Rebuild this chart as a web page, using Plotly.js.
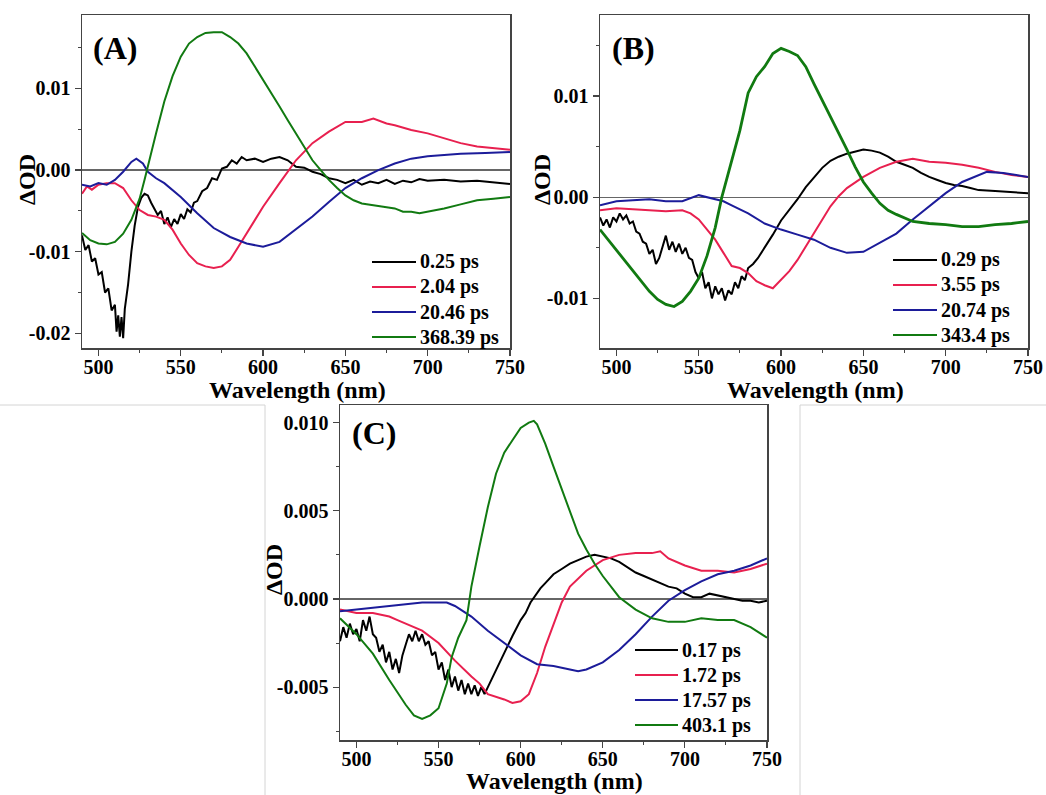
<!DOCTYPE html>
<html>
<head>
<meta charset="utf-8">
<script src="https://cdn.plot.ly/plotly-3.0.1.min.js"></script>
<style>html,body{margin:0;padding:0;background:#fff;}#chart{width:1046px;height:795px;}</style>
</head>
<body>
<div id="chart"></div>
<script>
// ---------- Panel A ----------
const wlA_k = [490,492,494,496,498,500,502,504,506,508,510,511,512,513,514,515,516,518,520,522,524,526,528,530,532,534,536,538,540,542,544,546,548,550,552,554,556,558,560,563,566,569,572,575,578,581,584,587,590,595,600,605,610,615,620,625,630,635,640,645,650,655,660,665,670,675,680,685,690,695,700,710,720,730,740,750];
const odA_k = [-0.0080,-0.0098,-0.0092,-0.0112,-0.0108,-0.0128,-0.0125,-0.0150,-0.0145,-0.0172,-0.0165,-0.0198,-0.0178,-0.0204,-0.0180,-0.0206,-0.0170,-0.0140,-0.0100,-0.0068,-0.0045,-0.0034,-0.0029,-0.0031,-0.0040,-0.0048,-0.0055,-0.0050,-0.0066,-0.0058,-0.0070,-0.0060,-0.0066,-0.0054,-0.0060,-0.0048,-0.0052,-0.0040,-0.0038,-0.0026,-0.0022,-0.0010,-0.0012,0.0002,0.0004,0.0012,0.0008,0.0016,0.0012,0.0014,0.0010,0.0014,0.0016,0.0012,0.0004,0.0003,-0.0002,-0.0005,-0.0010,-0.0012,-0.0016,-0.0012,-0.0018,-0.0014,-0.0016,-0.0012,-0.0017,-0.0013,-0.0015,-0.0011,-0.0013,-0.0012,-0.0014,-0.0013,-0.0015,-0.0017];
const wlA_r = [490,493,496,500,505,510,515,520,525,530,535,540,545,550,555,560,565,570,575,580,585,590,595,600,610,620,630,640,650,660,667,675,680,690,700,710,720,730,740,750];
const odA_r = [-0.0029,-0.0020,-0.0024,-0.0018,-0.0016,-0.0016,-0.0022,-0.0037,-0.0049,-0.0055,-0.0057,-0.0061,-0.0073,-0.0090,-0.0104,-0.0114,-0.0118,-0.0120,-0.0118,-0.0110,-0.0094,-0.0078,-0.0061,-0.0045,-0.0016,0.0012,0.0033,0.0047,0.0059,0.0059,0.0063,0.0057,0.0055,0.0049,0.0045,0.0039,0.0033,0.0029,0.0027,0.0025];
const wlA_b = [490,495,500,505,510,515,520,523,527,530,535,540,550,560,570,580,590,600,610,620,630,640,650,660,670,680,690,700,720,735,750];
const odA_b = [-0.0018,-0.0020,-0.0016,-0.0018,-0.0012,-0.0002,0.0010,0.0014,0.0008,-0.0002,-0.0010,-0.0016,-0.0033,-0.0053,-0.0071,-0.0082,-0.0090,-0.0094,-0.0088,-0.0073,-0.0057,-0.0039,-0.0022,-0.0010,0.0000,0.0008,0.0014,0.0017,0.0020,0.0021,0.0022];
const wlA_g = [490,495,500,505,510,515,520,525,528,530,535,540,545,550,555,560,565,570,575,580,585,590,595,600,605,610,615,620,625,630,635,640,645,650,655,660,670,680,685,690,695,700,710,720,730,740,750];
const odA_g = [-0.0077,-0.0086,-0.0090,-0.0091,-0.0088,-0.0078,-0.0061,-0.0035,-0.0012,0.0005,0.0045,0.0084,0.0115,0.0139,0.0155,0.0163,0.0168,0.0169,0.0169,0.0163,0.0155,0.0143,0.0127,0.0110,0.0094,0.0078,0.0061,0.0045,0.0029,0.0012,0.0000,-0.0012,-0.0022,-0.0031,-0.0037,-0.0041,-0.0044,-0.0047,-0.0051,-0.0051,-0.0053,-0.0051,-0.0047,-0.0042,-0.0037,-0.0035,-0.0033];
const namesA = ['0.25 ps','2.04 ps','20.46 ps','368.39 ps'];

// ---------- Panel B ----------
const wlB_k = [490,492,494,496,498,500,502,504,506,508,510,512,514,516,518,520,522,524,526,528,530,532,534,536,538,540,542,544,546,548,550,552,554,556,558,560,562,564,566,568,570,572,574,576,578,580,583,586,590,595,600,605,610,615,620,625,630,635,640,645,650,655,660,665,670,675,680,685,690,695,700,705,710,715,720,730,740,750];
const odB_k = [-0.0020,-0.0028,-0.0022,-0.0030,-0.0020,-0.0024,-0.0016,-0.0022,-0.0018,-0.0026,-0.0024,-0.0034,-0.0036,-0.0044,-0.0046,-0.0056,-0.0052,-0.0066,-0.0060,-0.0050,-0.0038,-0.0052,-0.0044,-0.0054,-0.0046,-0.0056,-0.0050,-0.0060,-0.0062,-0.0074,-0.0080,-0.0074,-0.0090,-0.0084,-0.0100,-0.0088,-0.0096,-0.0090,-0.0102,-0.0092,-0.0096,-0.0084,-0.0090,-0.0078,-0.0082,-0.0070,-0.0066,-0.0060,-0.0050,-0.0037,-0.0023,-0.0013,-0.0002,0.0010,0.0020,0.0029,0.0036,0.0040,0.0043,0.0045,0.0047,0.0046,0.0044,0.0040,0.0035,0.0032,0.0029,0.0024,0.0020,0.0017,0.0014,0.0012,0.0011,0.0009,0.0007,0.0006,0.0005,0.0004];
const wlB_r = [490,500,510,520,530,540,545,550,555,560,565,570,575,580,585,590,595,600,605,610,615,620,625,630,635,640,650,660,670,680,690,700,710,720,730,740,750];
const odB_r = [-0.0013,-0.0011,-0.0012,-0.0013,-0.0014,-0.0013,-0.0016,-0.0022,-0.0032,-0.0042,-0.0055,-0.0068,-0.0070,-0.0075,-0.0083,-0.0087,-0.0090,-0.0082,-0.0073,-0.0062,-0.0049,-0.0036,-0.0022,-0.0009,0.0001,0.0009,0.0020,0.0029,0.0035,0.0038,0.0035,0.0034,0.0032,0.0029,0.0025,0.0022,0.0020];
const wlB_b = [490,500,510,520,530,540,550,560,565,570,580,590,600,610,620,630,640,650,660,670,680,690,700,710,720,725,735,750];
const odB_b = [-0.0008,-0.0004,-0.0003,-0.0002,-0.0004,-0.0004,0.0002,-0.0002,-0.0004,-0.0008,-0.0016,-0.0026,-0.0032,-0.0037,-0.0042,-0.0050,-0.0055,-0.0054,-0.0045,-0.0036,-0.0022,-0.0009,0.0004,0.0015,0.0022,0.0025,0.0024,0.0020];
const wlB_g = [490,495,500,505,510,515,520,525,530,535,540,545,550,555,560,564,570,575,580,585,590,595,600,605,610,615,620,625,630,635,640,645,650,655,660,665,670,680,690,700,710,720,730,740,750];
const odB_g = [-0.0032,-0.0042,-0.0052,-0.0062,-0.0072,-0.0083,-0.0093,-0.0101,-0.0106,-0.0108,-0.0103,-0.0093,-0.0080,-0.0058,-0.0030,0.0000,0.0037,0.0066,0.0103,0.0119,0.0129,0.0142,0.0147,0.0144,0.0140,0.0129,0.0112,0.0096,0.0080,0.0063,0.0047,0.0030,0.0015,0.0004,-0.0006,-0.0013,-0.0017,-0.0024,-0.0026,-0.0027,-0.0029,-0.0029,-0.0027,-0.0026,-0.0024];
const namesB = ['0.29 ps','3.55 ps','20.74 ps','343.4 ps'];

// ---------- Panel C ----------
const wlC_k = [490,492,494,496,498,500,502,504,506,508,510,512,514,516,518,520,522,524,526,528,530,532,534,536,538,540,542,544,546,548,550,552,554,556,558,560,562,564,566,568,570,572,574,576,578,580,583,586,590,595,600,603,606,609,612,615,620,625,630,635,640,645,650,655,660,665,670,675,680,685,690,695,700,705,710,715,720,725,730,735,740,745,750];
const odC_k = [-0.0024,-0.0016,-0.0022,-0.0014,-0.0020,-0.0017,-0.0024,-0.0012,-0.0018,-0.0010,-0.0020,-0.0022,-0.0030,-0.0026,-0.0036,-0.0030,-0.0040,-0.0034,-0.0042,-0.0032,-0.0026,-0.0020,-0.0024,-0.0018,-0.0024,-0.0020,-0.0026,-0.0024,-0.0032,-0.0030,-0.0040,-0.0036,-0.0046,-0.0040,-0.0050,-0.0044,-0.0052,-0.0046,-0.0054,-0.0048,-0.0054,-0.0049,-0.0055,-0.0050,-0.0054,-0.0050,-0.0044,-0.0038,-0.0030,-0.0021,-0.0012,-0.0008,-0.0002,0.0002,0.0006,0.0009,0.0014,0.0017,0.0020,0.0022,0.0024,0.0025,0.0024,0.0023,0.0021,0.0018,0.0015,0.0013,0.0011,0.0009,0.0007,0.0006,0.0003,0.0001,0.0001,0.0003,0.0002,0.0001,0.0000,-0.0001,-0.0001,-0.0002,-0.0001];
const wlC_r = [490,500,510,520,525,530,540,550,560,570,575,580,590,595,600,605,610,615,620,625,630,640,650,660,670,680,685,690,700,710,720,730,740,750];
const odC_r = [-0.0006,-0.0008,-0.0008,-0.0010,-0.0012,-0.0014,-0.0018,-0.0025,-0.0035,-0.0044,-0.0048,-0.0054,-0.0057,-0.0059,-0.0058,-0.0054,-0.0042,-0.0027,-0.0014,-0.0002,0.0007,0.0016,0.0022,0.0025,0.0026,0.0026,0.0027,0.0023,0.0019,0.0016,0.0016,0.0015,0.0017,0.0020];
const wlC_b = [490,500,510,520,530,540,550,555,560,570,580,590,600,610,620,630,635,640,650,660,670,680,690,700,710,720,730,740,750];
const odC_b = [-0.0007,-0.0006,-0.0005,-0.0004,-0.0003,-0.0002,-0.0002,-0.0002,-0.0004,-0.0010,-0.0018,-0.0025,-0.0032,-0.0037,-0.0038,-0.0040,-0.0041,-0.0040,-0.0036,-0.0029,-0.0020,-0.0010,-0.0001,0.0005,0.0010,0.0014,0.0016,0.0019,0.0023];
const wlC_g = [490,500,510,520,530,535,540,545,550,555,558,562,567,570,575,580,585,590,595,600,605,608,610,615,620,625,630,635,640,645,650,660,670,680,690,700,710,720,730,740,750];
const odC_g = [-0.0011,-0.0020,-0.0031,-0.0046,-0.0060,-0.0066,-0.0068,-0.0066,-0.0062,-0.0048,-0.0033,-0.0022,-0.0012,0.0007,0.0030,0.0052,0.0071,0.0083,0.0090,0.0097,0.0100,0.0101,0.0099,0.0088,0.0075,0.0062,0.0049,0.0037,0.0028,0.0020,0.0013,0.0001,-0.0006,-0.0011,-0.0013,-0.0013,-0.0011,-0.0012,-0.0012,-0.0016,-0.0022];
const namesC = ['0.17 ps','1.72 ps','17.57 ps','403.1 ps'];

// ---------- tick labels ----------
const xTicks = [500,550,600,650,700,750];
const xTickText = ['500','550','600','650','700','750'];
const yTicksAB = [-0.02,-0.01,0,0.01];
const yTickTextAB = ['-0.02','-0.01','0.00','0.01'];
const yTicksC = [-0.005,0,0.005,0.010];
const yTickTextC = ['-0.005','0.000','0.005','0.010'];

const colors = ['#000000','#e8204f','#1c1c9a','#117a11'];
const FONT = 'Liberation Serif, Times New Roman, serif';
const W = 1046, H = 795;

function mk(x, y, name, i, xa, ya, w) {
  return {x: x, y: y, name: name, type: 'scatter', mode: 'lines',
    xaxis: xa, yaxis: ya, showlegend: false,
    line: {color: colors[i], width: w || 2}};
}
const traces = [
  mk(wlA_k, odA_k, namesA[0], 0, 'x', 'y'),
  mk(wlA_r, odA_r, namesA[1], 1, 'x', 'y'),
  mk(wlA_b, odA_b, namesA[2], 2, 'x', 'y'),
  mk(wlA_g, odA_g, namesA[3], 3, 'x', 'y'),
  mk(wlB_k, odB_k, namesB[0], 0, 'x2', 'y2'),
  mk(wlB_r, odB_r, namesB[1], 1, 'x2', 'y2'),
  mk(wlB_b, odB_b, namesB[2], 2, 'x2', 'y2'),
  mk(wlB_g, odB_g, namesB[3], 3, 'x2', 'y2', 2.8),
  mk(wlC_k, odC_k, namesC[0], 0, 'x3', 'y3'),
  mk(wlC_r, odC_r, namesC[1], 1, 'x3', 'y3'),
  mk(wlC_b, odC_b, namesC[2], 2, 'x3', 'y3'),
  mk(wlC_g, odC_g, namesC[3], 3, 'x3', 'y3')
];

const tickFont = {family: FONT, size: 20, color: '#000', weight: 'bold'};
function xax(l, r, anchor) {
  return {domain: [l / W, r / W], anchor: anchor, range: [490, 750],
    tickmode: 'array', tickvals: xTicks, ticktext: xTickText,
    ticks: 'outside', ticklen: 6, tickwidth: 1.2, tickcolor: '#444',
    minor: {dtick: 25, tick0: 0, ticks: 'outside', ticklen: 3, tickwidth: 1, tickcolor: '#444'},
    showline: true, linecolor: '#444', linewidth: 1.5, mirror: true,
    showgrid: false, zeroline: false, tickfont: tickFont, automargin: false,
    ticklabelstandoff: -6};
}
function yax(t, b, anchor, range, tv, tt, minorStep) {
  return {domain: [1 - b / H, 1 - t / H], anchor: anchor, range: range,
    tickmode: 'array', tickvals: tv, ticktext: tt,
    ticks: 'outside', ticklen: 6, tickwidth: 1.2, tickcolor: '#444',
    minor: {dtick: minorStep, tick0: 0, ticks: 'outside', ticklen: 3, tickwidth: 1, tickcolor: '#444'},
    showline: true, linecolor: '#444', linewidth: 1.5, mirror: true,
    showgrid: false, zeroline: true, zerolinecolor: '#666', zerolinewidth: 1.2,
    tickfont: tickFont, automargin: false};
}
function ann(text, xpx, ypx, size, angle, anchor) {
  return {text: text, x: xpx / W, y: 1 - ypx / H, xref: 'paper', yref: 'paper',
    showarrow: false, xanchor: anchor || 'center', yanchor: 'middle', textangle: angle || 0,
    font: {family: FONT, size: size, color: '#000', weight: 'bold'}};
}
function seg(x0, y0, x1, y1, color, width) {
  return {type: 'line', xref: 'paper', yref: 'paper',
    x0: x0 / W, y0: 1 - y0 / H, x1: x1 / W, y1: 1 - y1 / H,
    line: {color: color || '#d4d4d4', width: width || 1}};
}

// legend keys (line sample + label) for each panel
const annotations = [
  ann('(A)', 115, 48, 32), ann('(B)', 633, 48, 32), ann('(C)', 374, 433, 32),
  ann('ΔOD', 27, 180, 24, -90), ann('ΔOD', 542, 180, 24, -90), ann('ΔOD', 274, 570, 24, -90),
  ann('Wavelength (nm)', 297, 390, 24), ann('Wavelength (nm)', 815, 390, 24), ann('Wavelength (nm)', 554, 781, 24)
];
const shapes = [
  seg(0, 405, 265, 405), seg(265, 405, 265, 795),
  seg(800, 405, 1046, 405), seg(800, 405, 800, 795)
];
function addKey(names, lineX0, lineX1, textX, rowY0) {
  names.forEach(function (nm, i) {
    const y = rowY0 + 25 * i;
    shapes.push(seg(lineX0, y, lineX1, y, colors[i], 2));
    annotations.push(ann(nm, textX, y, 20, 0, 'left'));
  });
}
addKey(namesA, 372, 416, 418, 262);
addKey(namesB, 893, 937, 939, 260);
addKey(namesC, 635, 678, 680, 650);

const layout = {
  width: W, height: H, margin: {l: 0, r: 0, t: 0, b: 0},
  paper_bgcolor: '#fff', plot_bgcolor: '#fff', showlegend: false,
  xaxis: xax(82, 510, 'y'),
  yaxis: yax(15, 348, 'x', [-0.0218, 0.0190], yTicksAB, yTickTextAB, 0.005),
  xaxis2: xax(600, 1028, 'y2'),
  yaxis2: yax(15, 348, 'x2', [-0.0149, 0.0180], yTicksAB, yTickTextAB, 0.005),
  xaxis3: xax(340, 767, 'y3'),
  yaxis3: yax(405, 740, 'x3', [-0.0080, 0.0110], yTicksC, yTickTextC, 0.0025),
  annotations: annotations,
  shapes: shapes
};

Plotly.newPlot('chart', traces, layout, {displayModeBar: false, staticPlot: true});
</script>
</body>
</html>
